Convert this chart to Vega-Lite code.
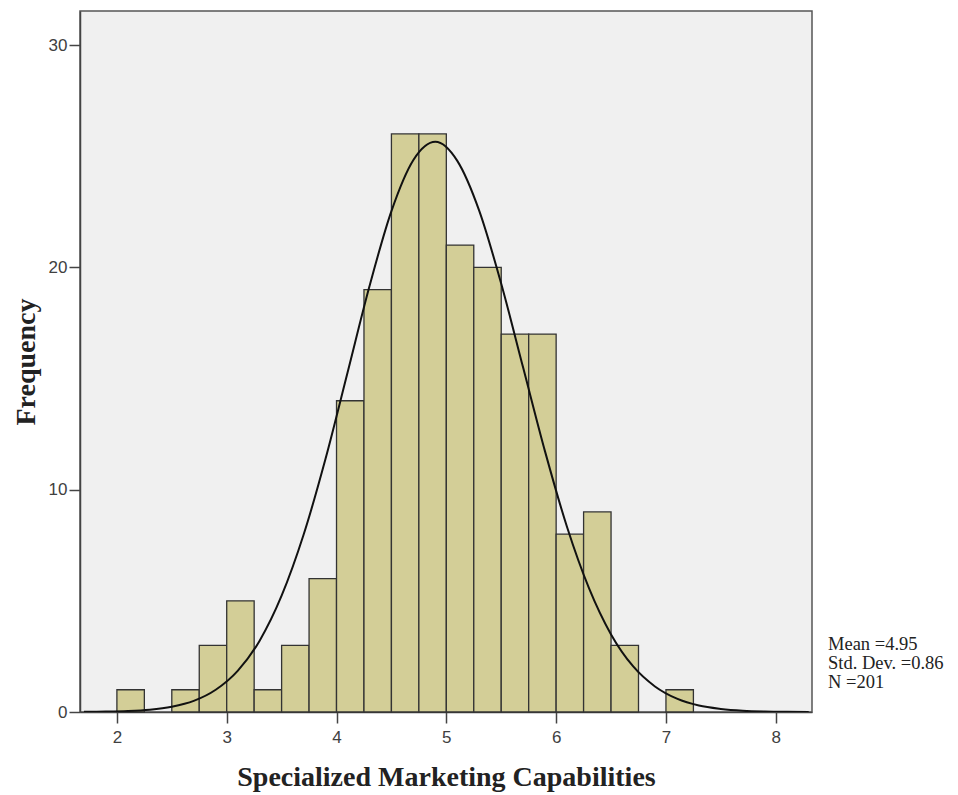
{
  "$schema": "https://vega.github.io/schema/vega-lite/v6.json",
  "width": 732,
  "height": 701,
  "autosize": {"type": "none"},
  "padding": {"left": 80, "top": 11, "right": 146, "bottom": 83},
  "background": "white",
  "config": {
    "view": {"fill": "#F0F0F0", "stroke": "#555555", "strokeWidth": 1.5},
    "axis": {
      "grid": false,
      "domainColor": "#444444",
      "domainWidth": 1.5,
      "tickColor": "#444444",
      "tickWidth": 1.5,
      "tickSize": 11,
      "labelFont": "Liberation Sans",
      "labelFontSize": 17,
      "labelColor": "#404040",
      "titleFont": "Liberation Serif",
      "titleFontSize": 28,
      "titleFontWeight": "bold",
      "titleColor": "#222222"
    }
  },
  "datasets": {
    "hist": [
      {"bin_start": 2.0, "bin_end": 2.25, "count": 1},
      {"bin_start": 2.5, "bin_end": 2.75, "count": 1},
      {"bin_start": 2.75, "bin_end": 3.0, "count": 3},
      {"bin_start": 3.0, "bin_end": 3.25, "count": 5},
      {"bin_start": 3.25, "bin_end": 3.5, "count": 1},
      {"bin_start": 3.5, "bin_end": 3.75, "count": 3},
      {"bin_start": 3.75, "bin_end": 4.0, "count": 6},
      {"bin_start": 4.0, "bin_end": 4.25, "count": 14},
      {"bin_start": 4.25, "bin_end": 4.5, "count": 19},
      {"bin_start": 4.5, "bin_end": 4.75, "count": 26},
      {"bin_start": 4.75, "bin_end": 5.0, "count": 26},
      {"bin_start": 5.0, "bin_end": 5.25, "count": 21},
      {"bin_start": 5.25, "bin_end": 5.5, "count": 20},
      {"bin_start": 5.5, "bin_end": 5.75, "count": 17},
      {"bin_start": 5.75, "bin_end": 6.0, "count": 17},
      {"bin_start": 6.0, "bin_end": 6.25, "count": 8},
      {"bin_start": 6.25, "bin_end": 6.5, "count": 9},
      {"bin_start": 6.5, "bin_end": 6.75, "count": 3},
      {"bin_start": 7.0, "bin_end": 7.25, "count": 1}
    ],
    "curve": [
      {"x": 1.7, "y": 0.006},
      {"x": 1.9, "y": 0.017},
      {"x": 2.1, "y": 0.044},
      {"x": 2.3, "y": 0.106},
      {"x": 2.5, "y": 0.24},
      {"x": 2.7, "y": 0.5},
      {"x": 2.9, "y": 1.0},
      {"x": 3.1, "y": 1.85},
      {"x": 3.3, "y": 3.21},
      {"x": 3.5, "y": 5.23},
      {"x": 3.7, "y": 7.97},
      {"x": 3.9, "y": 11.39},
      {"x": 4.1, "y": 15.26},
      {"x": 4.3, "y": 19.15},
      {"x": 4.5, "y": 22.53},
      {"x": 4.7, "y": 24.83},
      {"x": 4.9, "y": 25.65},
      {"x": 5.1, "y": 24.79},
      {"x": 5.3, "y": 22.54},
      {"x": 5.5, "y": 19.26},
      {"x": 5.7, "y": 15.48},
      {"x": 5.9, "y": 11.7},
      {"x": 6.1, "y": 8.31},
      {"x": 6.3, "y": 5.56},
      {"x": 6.5, "y": 3.49},
      {"x": 6.7, "y": 2.06},
      {"x": 6.9, "y": 1.15},
      {"x": 7.1, "y": 0.6},
      {"x": 7.3, "y": 0.29},
      {"x": 7.5, "y": 0.14},
      {"x": 7.7, "y": 0.06},
      {"x": 7.9, "y": 0.024},
      {"x": 8.1, "y": 0.009},
      {"x": 8.3, "y": 0.003}
    ],
    "stats": [
      {"label": "Mean =4.95\nStd. Dev. =0.86\nN =201"}
    ]
  },
  "layer": [
    {
      "data": {"name": "hist"},
      "mark": {"type": "rect", "fill": "#D3CE97", "stroke": "#333333", "strokeWidth": 1.3},
      "encoding": {
        "x": {
          "field": "bin_start",
          "type": "quantitative",
          "scale": {"domain": [1.664, 8.33], "nice": false, "zero": false},
          "axis": {"values": [2, 3, 4, 5, 6, 7, 8], "format": "d", "title": "Specialized Marketing Capabilities", "labelPadding": 6, "titlePadding": 18}
        },
        "x2": {"field": "bin_end"},
        "y": {
          "field": "count",
          "type": "quantitative",
          "scale": {"domain": [0, 31.53], "nice": false},
          "axis": {"values": [0, 10, 20, 30], "format": "d", "title": "Frequency", "labelPadding": 2, "titlePadding": 8}
        },
        "y2": {"datum": 0}
      }
    },
    {
      "data": {"name": "curve"},
      "mark": {"type": "line", "color": "#111111", "strokeWidth": 2, "interpolate": "monotone", "clip": true},
      "encoding": {
        "x": {"field": "x", "type": "quantitative"},
        "y": {"field": "y", "type": "quantitative"}
      }
    },
    {
      "data": {"name": "stats"},
      "mark": {"type": "text", "align": "left", "baseline": "top", "dx": 16, "font": "Liberation Serif", "fontSize": 18.5, "lineHeight": 19, "color": "#222222", "lineBreak": "\n", "clip": false},
      "encoding": {
        "x": {"datum": 8.33, "type": "quantitative"},
        "y": {"datum": 3.45, "type": "quantitative"},
        "text": {"field": "label"}
      }
    }
  ]
}
